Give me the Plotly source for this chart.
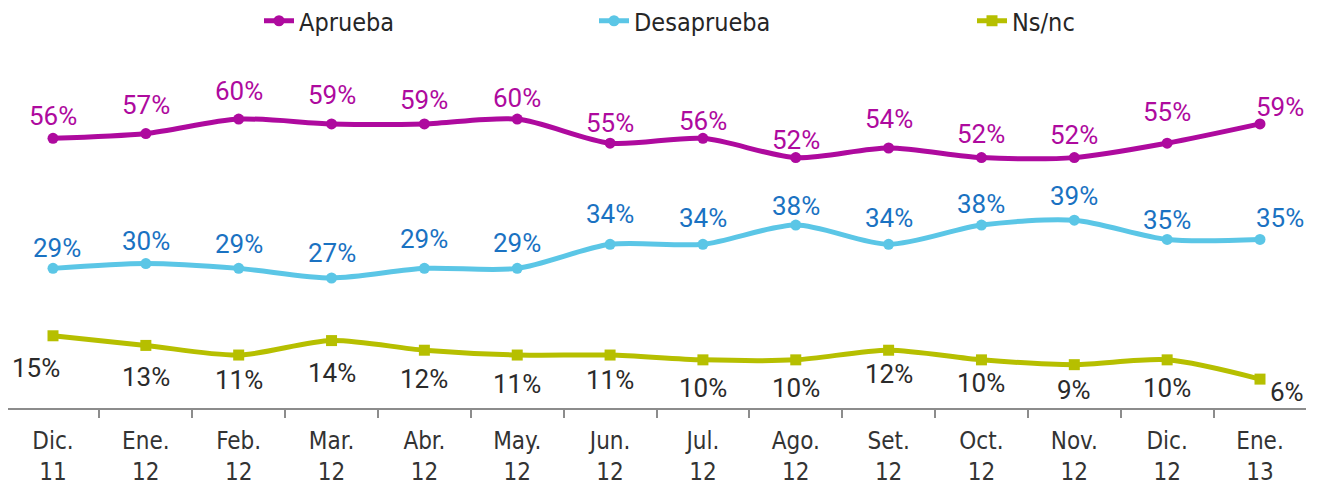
import plotly.graph_objects as go

months = ["Dic.<br>11", "Ene.<br>12", "Feb.<br>12", "Mar.<br>12", "Abr.<br>12", "May.<br>12",
          "Jun.<br>12", "Jul.<br>12", "Ago.<br>12", "Set.<br>12", "Oct.<br>12", "Nov.<br>12",
          "Dic.<br>12", "Ene.<br>13"]
aprueba = [56, 57, 60, 59, 59, 60, 55, 56, 52, 54, 52, 52, 55, 59]
desaprueba = [29, 30, 29, 27, 29, 29, 34, 34, 38, 34, 38, 39, 35, 35]
nsnc = [15, 13, 11, 14, 12, 11, 11, 10, 10, 12, 10, 9, 10, 6]

# label offsets (pixels) relative to each point: styling only
apr_dy = [22, 29, 28, 29, 24, 21, 20, 17, 18, 29, 24, 23, 31, 17]
apr_dx = [0] * 13 + [20]
des_dy = [20, 23, 24, 25, 29, 25, 30, 26, 19, 26, 21, 24, 19, 21]
des_dx = [4] + [0] * 12 + [20]
ns_dy = [-32, -32, -25, -32, -29, -29, -25, -28, -28, -24, -23, -25, -28, -13]
ns_dx = [-17] + [0] * 12 + [27]

AXIS_FONT = "DejaVu Sans Condensed, DejaVu Sans, sans-serif"
LABEL_FONT = "Roboto, DejaVu Sans Condensed, sans-serif"

series = [
    ("Aprueba", aprueba, "#AE0A9E", "#AE0A9E", "circle", apr_dx, apr_dy, "legend"),
    ("Desaprueba", desaprueba, "#5BC6E6", "#1A72C2", "circle", des_dx, des_dy, "legend2"),
    ("Ns/nc", nsnc, "#B6BF00", "#2B2B2B", "square", ns_dx, ns_dy, "legend3"),
]

fig = go.Figure()
annotations = []
for name, vals, lc, tc, sym, dxs, dys, leg in series:
    fig.add_trace(go.Scatter(
        x=months, y=vals, name=name, mode="lines+markers",
        line=dict(color=lc, width=5, shape="spline", smoothing=0.8),
        marker=dict(color=lc, size=11, symbol=sym),
        legend=leg, showlegend=True,
    ))
    for m, v, dx, dy in zip(months, vals, dxs, dys):
        annotations.append(dict(
            x=m, y=v, text=f"{v}%", showarrow=False, xshift=dx, yshift=dy,
            xanchor="center", yanchor="middle",
            font=dict(family=LABEL_FONT, size=26, color=tc),
        ))

# page body has an 8px margin; figure sized to fit the window
W, H = 1311, 478
ml, mr, mt, mb = 0, 13, 0, 78
pw = W - ml - mr
ph = H - mt - mb
px_per_unit = 4.815
ytop = ph / px_per_unit
cat_px = 92.846
first_px = 45
x0 = -first_px / cat_px
x1 = x0 + pw / cat_px

def lx(px):
    return (px - ml) / pw

def ly(py):
    return (H - mb - py) / ph

legend_common = dict(orientation="h", yanchor="middle", y=ly(13), xanchor="left",
                     font=dict(family=AXIS_FONT, size=25, color="#262626"),
                     bgcolor="rgba(0,0,0,0)", itemwidth=30)

fig.update_layout(
    width=W, height=H,
    margin=dict(l=ml, r=mr, t=mt, b=mb, autoexpand=False),
    paper_bgcolor="white", plot_bgcolor="white",
    showlegend=True,
    annotations=annotations,
    legend=dict(legend_common, x=lx(251)),
    legend2=dict(legend_common, x=lx(586)),
    legend3=dict(legend_common, x=lx(964)),
    xaxis=dict(
        type="category", tickson="boundaries", ticks="outside", ticklen=8,
        tickwidth=2, tickcolor="#8C8C8C", showline=True, linecolor="#8C8C8C", linewidth=2,
        showgrid=False, range=[x0, x1], ticklabelstandoff=10, automargin=False,
        tickfont=dict(family=AXIS_FONT, size=24, color="#333333"),
    ),
    yaxis=dict(range=[0, ytop], visible=False, showgrid=False, zeroline=False),
)

fig.write_html("out.html")
